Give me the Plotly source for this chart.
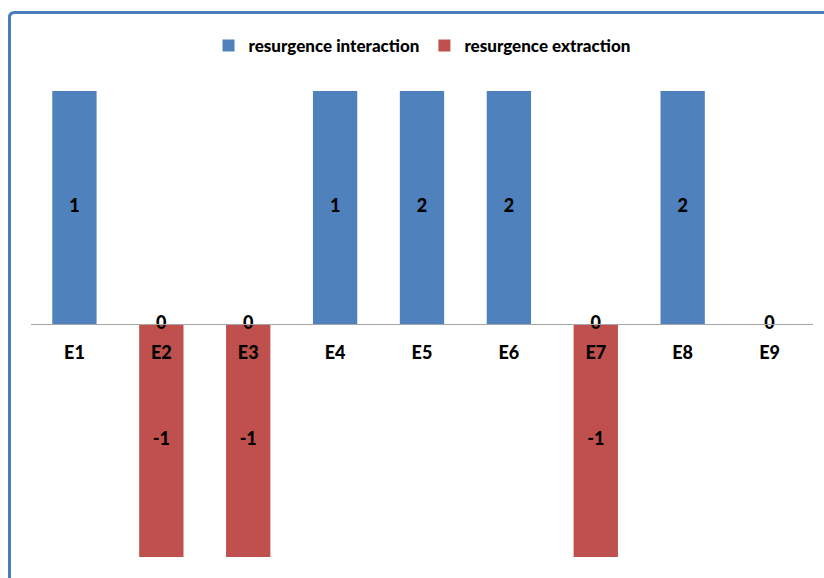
import numpy as np
import plotly.graph_objects as go

categories = ["E1", "E2", "E3", "E4", "E5", "E6", "E7", "E8", "E9"]
interaction = [1, 0, 0, 1, 2, 2, 0, 2, 0]
extraction = [None, -1, -1, None, None, None, -1, None, None]

BLUE = "#4F81BD"
RED = "#C0504D"
FONT = dict(family="Lato", size=18, color="black", weight=900)

# axis is fixed at [-1, 1], so taller bars are cut at the frame
y_min, y_max = -1, 1


def _clip(vals):
    return [None if v is None else float(np.clip(v, y_min, y_max)) for v in vals]


fig = go.Figure()
fig.add_trace(go.Bar(
    x=categories, y=_clip(interaction), name="resurgence interaction",
    marker=dict(color=BLUE, line=dict(width=0)),
))
fig.add_trace(go.Bar(
    x=categories, y=_clip(extraction), name="resurgence extraction",
    marker=dict(color=RED, line=dict(width=0)),
))

# data labels sit in the middle of the visible part of each bar
for vals in (interaction, extraction):
    xs = [c for c, v in zip(categories, vals) if v is not None]
    ys = [v / 2 for v in _clip(vals) if v is not None]
    txt = [str(v) for v in vals if v is not None]
    fig.add_trace(go.Scatter(
        x=xs, y=ys, text=txt, mode="text", textposition="middle center",
        textfont=FONT, showlegend=False, hoverinfo="skip",
    ))

# outer chart frame (top-left rounded corner, runs off the right and bottom)
W, H = 824, 578
L, R, T, B = 31, 11, 91, 21
pw, ph = W - L - R, H - T - B


def px(x):
    return (x - L) / pw


def py(y):
    return (H - B - y) / ph


r = 5
path = (
    f"M {px(9.5)},{py(600)} L {px(9.5)},{py(12.5 + r)} "
    f"Q {px(9.5)},{py(12.5)} {px(9.5 + r)},{py(12.5)} L {px(840)},{py(12.5)}"
)
fig.add_shape(type="path", xref="paper", yref="paper", path=path,
              line=dict(color="#4A7EBB", width=3), layer="above")

fig.update_layout(
    width=W, height=H,
    margin=dict(l=L, r=R, t=T, b=B),
    barmode="relative", bargap=0.49,
    plot_bgcolor="white", paper_bgcolor="white",
    font=FONT,
    legend=dict(orientation="h", x=0.5, xanchor="center", y=py(46), yanchor="middle",
                font=dict(family="Lato", size=17, color="black", weight=900),
                itemwidth=30, traceorder="normal"),
    xaxis=dict(anchor="free", position=0.5, showline=True, linecolor="#A6A6A6",
               linewidth=1, ticks="", showgrid=False, ticklabelstandoff=12,
               tickfont=FONT),
    yaxis=dict(range=[y_min, y_max], visible=False, showgrid=False, zeroline=False),
)

fig.write_html("out.html", config={"displayModeBar": False},
               post_script="document.body.style.margin='0';")
